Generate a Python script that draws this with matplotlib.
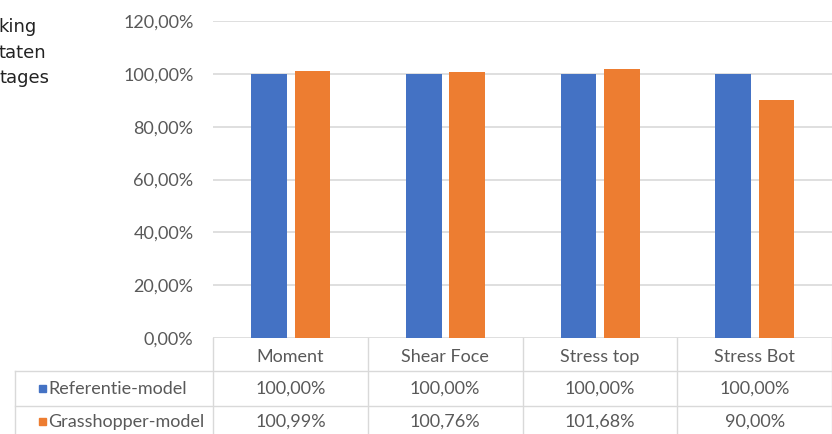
import matplotlib
matplotlib.use('Agg')
import matplotlib.pyplot as plt
import matplotlib.transforms as mtransforms
import numpy as np

categories = ['Moment', 'Shear Foce', 'Stress top', 'Stress Bot']
series_names = ['Referentie-model', 'Grasshopper-model']
referentie = [100.00, 100.00, 100.00, 100.00]
grasshopper = [100.99, 100.76, 101.68, 90.00]
yticks = [0, 20, 40, 60, 80, 100, 120]
side_text = ['king', 'taten', 'tages']

blue = '#4472C4'
orange = '#ED7D31'
grey_text = '#595959'
grid_col = '#D9D9D9'
W, H = 832, 434
fs = 13

plt.rcParams['font.family'] = ['Lato', 'DejaVu Sans']

fig = plt.figure(figsize=(W / 100, H / 100), dpi=100)
fig.patch.set_facecolor('white')


def fy(py):
    return 1 - py / H


def fx(px):
    return px / W


ax = fig.add_axes([fx(213), fy(338), (W - 213) / W, (338 - 21) / H])
x = np.arange(len(categories))
width = 0.23
ax.bar(x - 0.138, referentie, width, color=blue, zorder=3)
ax.bar(x + 0.142, grasshopper, width, color=orange, zorder=3)

ax.set_xlim(-0.5, 3.5)
ax.set_ylim(0, 120)
ax.set_yticks(yticks)
ax.set_yticklabels([f'{v:.2f}%'.replace('.', ',') for v in yticks],
                   fontsize=fs, color=grey_text)
ax.set_xticks([])
ax.tick_params(axis='y', length=0, pad=14)
ax.yaxis.grid(True, color=grid_col, linewidth=1.2, zorder=0)
for s in ax.spines.values():
    s.set_visible(False)

# data table below the chart
blend = mtransforms.blended_transform_factory(ax.transData, fig.transFigure)
line_kw = dict(color=grid_col, linewidth=1.0, clip_on=False)

for b in np.arange(-0.5, len(categories), 1.0):
    ax.plot([b, b], [fy(338), 0], transform=blend, **line_kw)
fig.add_artist(plt.Line2D([fx(15), fx(15)], [fy(371), 0], **line_kw))
for py in [371, 406]:
    fig.add_artist(plt.Line2D([fx(15), 1], [fy(py), fy(py)], **line_kw))

for i, cat in enumerate(categories):
    ax.text(i, fy(357), cat, transform=blend, ha='center', va='center',
            fontsize=fs, color=grey_text)
    ax.text(i, fy(389), f'{referentie[i]:.2f}%'.replace('.', ','),
            transform=blend, ha='center', va='center', fontsize=fs, color=grey_text)
    ax.text(i, fy(422), f'{grasshopper[i]:.2f}%'.replace('.', ','),
            transform=blend, ha='center', va='center', fontsize=fs, color=grey_text)

for name, col, py in zip(series_names, [blue, orange], [389, 422]):
    fig.add_artist(plt.Rectangle((fx(39), fy(py + 3)), 7 / W, 7 / H,
                                 color=col, transform=fig.transFigure))
    fig.text(fx(48), fy(py), name, ha='left', va='center',
             fontsize=fs, color=grey_text)

# cut-off text from the surrounding page
for t, px, py in zip(side_text, [37, 46, 50], [27, 53, 78]):
    fig.text(fx(px), fy(py), t, ha='right', va='center',
             fontsize=13, color='#222222', family=['DejaVu Sans'])

fig.savefig('out.png', dpi=100)
